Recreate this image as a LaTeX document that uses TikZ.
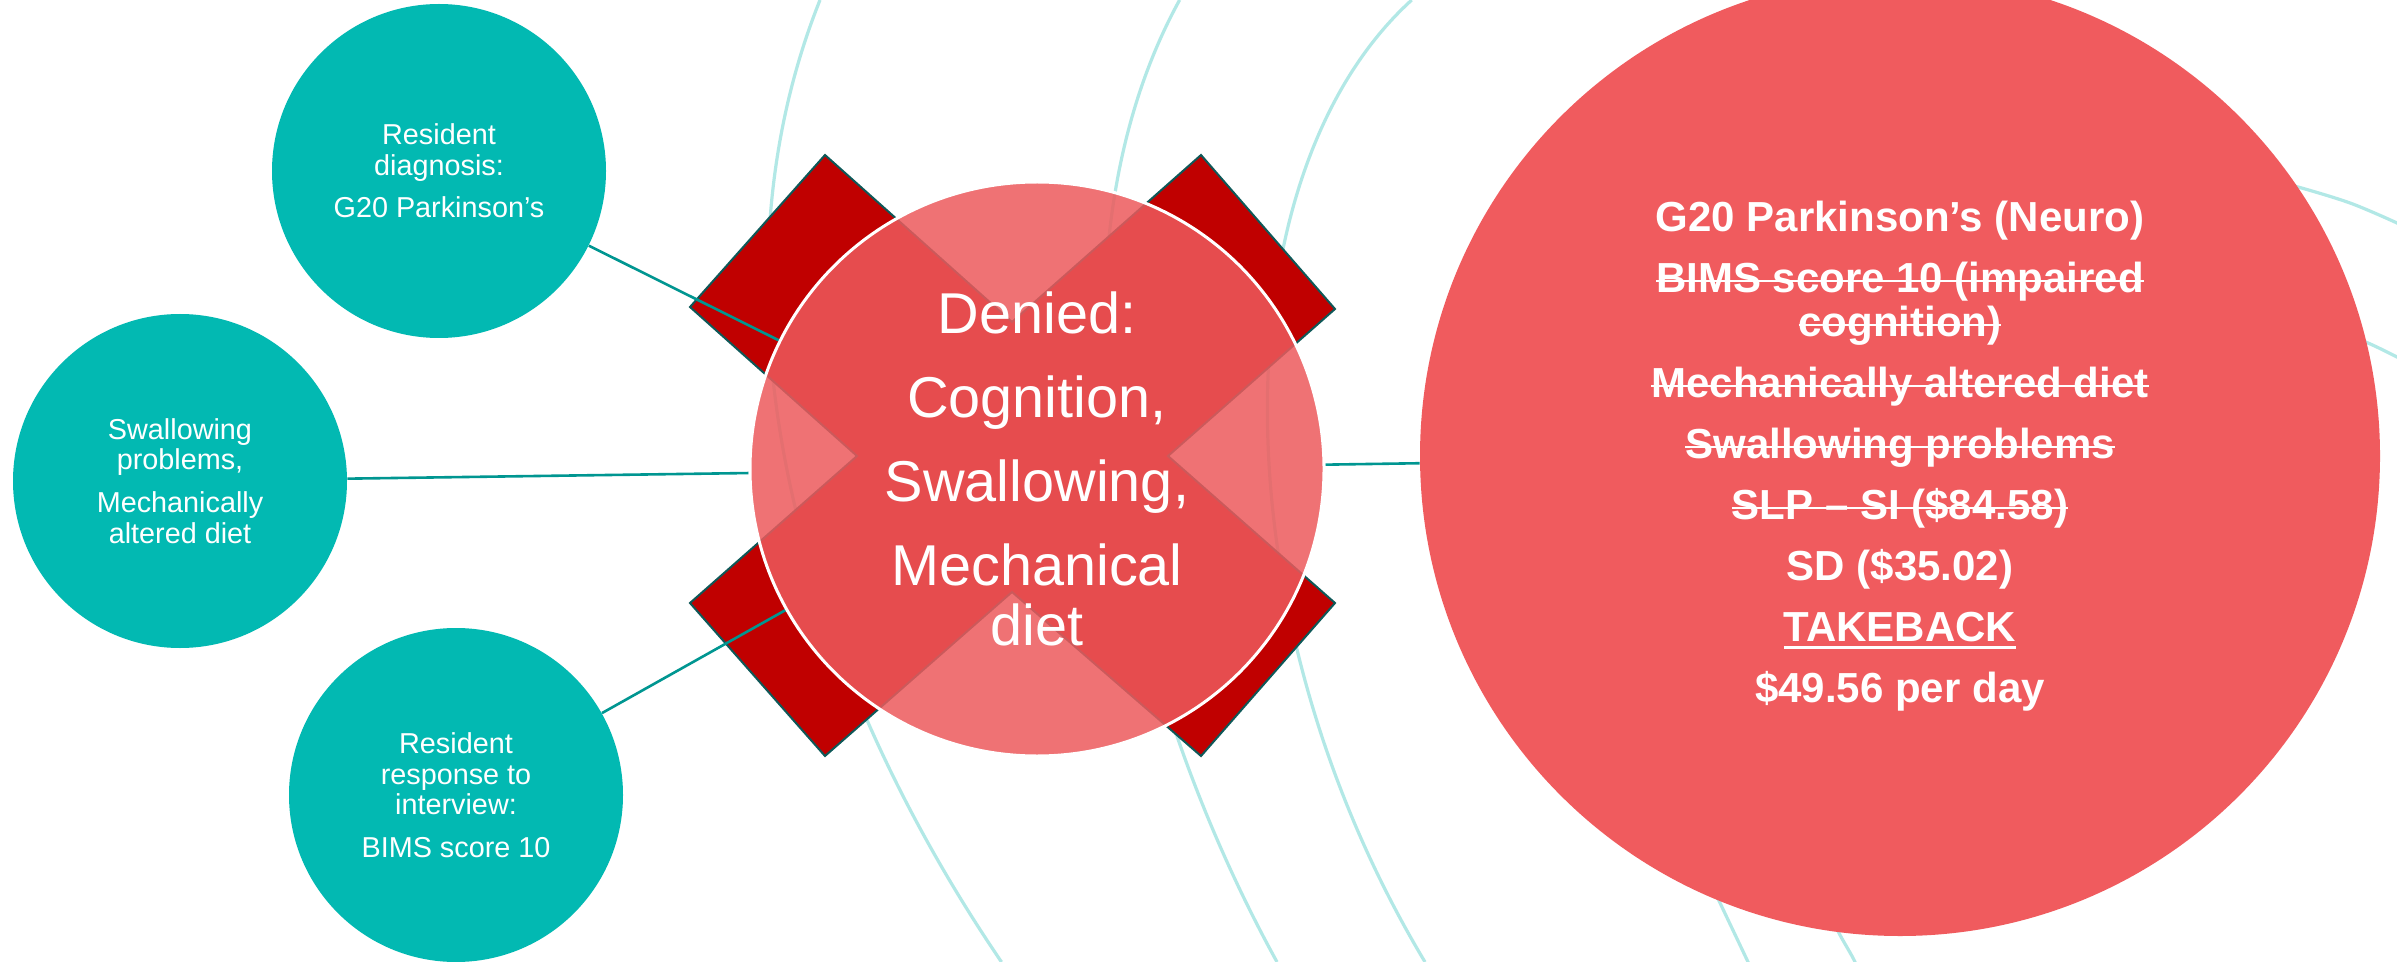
\documentclass[tikz,border=0pt]{standalone}
\usepackage{fontspec}
\setmainfont{Liberation Sans}
\newsavebox\strkbox
\newcommand\strk[1]{\sbox\strkbox{#1}\rlap{\rule[0.24em]{\wd\strkbox}{1.3pt}}\usebox\strkbox}
\newcommand\undl[1]{\sbox\strkbox{#1}\rlap{\rule[-0.17em]{\wd\strkbox}{1.3pt}}\usebox\strkbox}
\definecolor{tealc}{RGB}{2,185,178}
\definecolor{connc}{RGB}{0,150,145}
\definecolor{arcc}{RGB}{178,232,230}
\definecolor{xred}{RGB}{192,0,0}
\definecolor{xline}{RGB}{14,88,88}
\definecolor{cfill}{RGB}{237,90,92}
\definecolor{bigred}{RGB}{240,91,94}
\pgfdeclarelayer{back}
\pgfdeclarelayer{mid}
\pgfsetlayers{back,mid,main}
\tikzset{
  arcline/.style={draw=arcc, line width=1.6pt},
  conn/.style={draw=connc, line width=1.3pt},
  tealcirc/.style={circle, fill=tealc, minimum size=167pt, inner sep=0pt, text=white, align=center, font=\fontsize{14.4}{15.3}\selectfont},
  centercirc/.style={circle, fill=cfill, fill opacity=0.85, text opacity=1, draw=white, line width=1.5pt, minimum size=287pt, inner sep=0pt, text=white, align=center, font=\fontsize{28.8}{30}\selectfont},
  bigcirc/.style={circle, fill=bigred, minimum size=480pt, inner sep=0pt, text=white, align=center, font=\bfseries\fontsize{21}{22}\selectfont},
  xshape/.style={fill=xred, draw=xline, line width=1pt, line join=miter}
}
\begin{document}
\begin{tikzpicture}[x=0.5pt,y=-0.5pt]
\useasboundingbox (0,0) rectangle (2397,962);
\begin{pgfonlayer}{back}
\fill[white] (0,0) rectangle (2397,962);
\begin{scope}
\clip (0,0) rectangle (2397,962);
\draw[arcline] (820,0) .. controls (700,300) and (797.5,662) .. (1001.5,962);
\draw[arcline] (1179.6,0) .. controls (1036.6,260) and (1112,662) .. (1277,962);
\draw[arcline] (1411.7,0) .. controls (1219.2,175) and (1215,612) .. (1425,962);
\draw[arcline] plot[smooth] coordinates {(1700,860) (1721,905) (1748,962) (1756,980)};
\draw[arcline] plot[smooth] coordinates {(1825,905) (1840,935) (1855,962) (1860,980)};
\draw[arcline] plot[smooth] coordinates {(2250,175) (2298,187) (2350,203) (2397,223) (2420,235)};
\draw[arcline] plot[smooth] coordinates {(2330,328) (2368,343) (2397,357) (2420,369)};
\end{scope}
\draw[xshape] (690,307) -- (825,155) -- (1012,322) -- (1201,155) -- (1335,309) -- (1168,456) -- (1335,603) -- (1201,756) -- (1012,592) -- (825,756) -- (690,603) -- (857,456) -- cycle;
\end{pgfonlayer}

\node[tealcirc] (tl) at (439,171) {Resident\\diagnosis:\\[6pt]G20 Parkinson’s};
\node[tealcirc] (ml) at (180,481) {Swallowing\\problems,\\[6pt]Mechanically\\altered diet};
\node[tealcirc] (bl) at (456,795) {Resident\\response to\\interview:\\[6pt]BIMS score 10};
\node[centercirc] (cc) at (1037,469) {Denied:\\[12pt]Cognition,\\[12pt]Swallowing,\\[12pt]Mechanical\\diet};
\node[bigcirc] (rc) at (1900,456) {G20 Parkinson’s (Neuro)\\[8.5pt]\strk{BIMS score 10 (impaired}\\\strk{cognition)}\\[8.5pt]\strk{Mechanically altered diet}\\[8.5pt]\strk{Swallowing problems}\\[8.5pt]\strk{SLP – SI (\$84.58)}\\[8.5pt]SD (\$35.02)\\[8.5pt]\undl{TAKEBACK}\\[8.5pt]\$49.56 per day};

\begin{pgfonlayer}{mid}
\draw[conn] (tl) -- (cc);
\draw[conn] (ml) -- (cc);
\draw[conn] (bl) -- (cc);
\draw[conn] (cc) -- (rc);
\end{pgfonlayer}
\end{tikzpicture}
\end{document}
